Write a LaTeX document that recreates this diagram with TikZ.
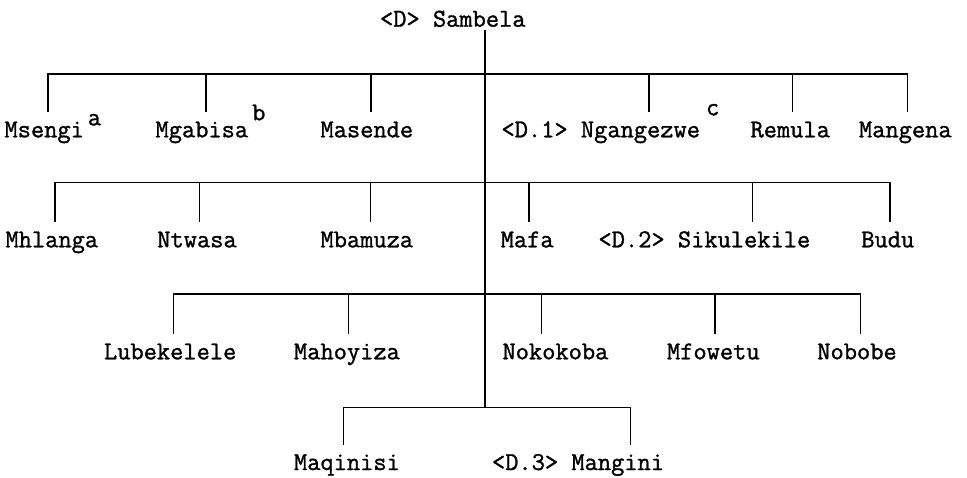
\documentclass[tikz,border=0pt]{standalone}
\usepackage{fontspec}
\setmonofont[FakeBold=1.2]{Latin Modern Mono}
\begin{document}
\begin{tikzpicture}[x=1pt,y=-1pt,
  lbl/.style={font=\fontsize{25.7}{30}\selectfont\ttfamily, anchor=base west,
    inner sep=0pt, outer sep=0pt, text height=26pt, text depth=0pt},
  ttl/.style={font=\fontsize{25.7}{30}\selectfont\ttfamily, anchor=base west,
    inner sep=0pt, outer sep=0pt, text depth=4pt},
  ln/.style={line width=1.5pt, line cap=rect}]
\useasboundingbox (0,0) rectangle (967,478);
% title
\node[ttl] (sambela) at (380,26.7) {<D> Sambela};
% level 1
\node[lbl] (msengi)    at (4.5,137.3)   {Msengi\kern4pt\raisebox{12pt}{a}};
\node[lbl] (mgabisa)   at (155.5,137.3) {Mgabisa\kern4pt\raisebox{17pt}{b}};
\node[lbl] (masende)   at (320.5,137.3) {Masende};
\node[lbl] (ngangezwe) at (501.5,137.3) {<D.1> Ngangezwe\kern6pt\raisebox{22pt}{c}};
\node[lbl] (remula)    at (750.5,137.3) {Remula};
\node[lbl] (mangena)   at (859,137.3)   {Mangena};
% level 2
\node[lbl] (mhlanga)    at (5.5,247.3)   {Mhlanga};
\node[lbl] (ntwasa)     at (157.3,247.3) {Ntwasa};
\node[lbl] (mbamuza)    at (320.5,247.3) {Mbamuza};
\node[lbl] (mafa)       at (500.7,247.3) {Mafa};
\node[lbl] (sikulekile) at (598.5,247.3) {<D.2> Sikulekile};
\node[lbl] (budu)       at (861.3,247.3) {Budu};
% level 3
\node[lbl] (lubekelele) at (104,359.3)   {Lubekelele};
\node[lbl] (mahoyiza)   at (294,359.3)   {Mahoyiza};
\node[lbl] (nokokoba)   at (502.5,359.3) {Nokokoba};
\node[lbl] (mfowetu)    at (667,359.3)   {Mfowetu};
\node[lbl] (nobobe)     at (817.3,359.3) {Nobobe};
% level 4
\node[lbl] (maqinisi) at (294,470) {Maqinisi};
\node[lbl] (mangini)  at (492,470) {<D.3> Mangini};
% junction at the foot of the trunk
\coordinate (j4) at (485,407.3);
% drop points
\coordinate (d-msengi)    at (48,74);
\coordinate (d-mgabisa)   at (206,74);
\coordinate (d-masende)   at (371,74);
\coordinate (d-ngangezwe) at (649,74);
\coordinate (d-remula)    at (792.3,74);
\coordinate (d-mangena)   at (907.3,74);
\coordinate (d-mhlanga)    at (55,182.3);
\coordinate (d-ntwasa)     at (199.3,182.3);
\coordinate (d-mbamuza)    at (370.7,182.3);
\coordinate (d-mafa)       at (529,182.3);
\coordinate (d-sikulekile) at (752.3,182.3);
\coordinate (d-budu)       at (890,182.3);
\coordinate (d-lubekelele) at (173.3,294);
\coordinate (d-mahoyiza)   at (348.3,294);
\coordinate (d-nokokoba)   at (541.7,294);
\coordinate (d-mfowetu)    at (715,294);
\coordinate (d-nobobe)     at (860.7,294);
\coordinate (d-maqinisi) at (343.3,407.3);
\coordinate (d-mangini)  at (630.7,407.3);
% trunk
\draw[ln] (sambela.south -| j4) -- (j4);
% bars
\draw[ln] (d-msengi) -- (d-mangena);
\draw[ln] (d-mhlanga) -- (d-budu);
\draw[ln] (d-lubekelele) -- (d-nobobe);
\draw[ln] (d-maqinisi) -- (d-mangini);
% drops
\foreach \n in {msengi,mgabisa,masende,ngangezwe,remula,mangena,
  mhlanga,ntwasa,mbamuza,mafa,sikulekile,budu,
  lubekelele,mahoyiza,nokokoba,mfowetu,nobobe,maqinisi,mangini}
  \draw[ln] (d-\n) -- (d-\n |- \n.north);
\end{tikzpicture}
\end{document}
